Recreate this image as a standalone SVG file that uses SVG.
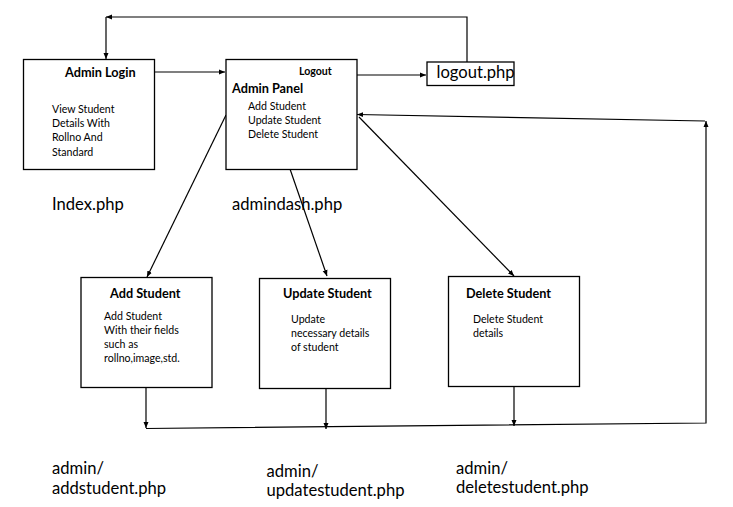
<svg xmlns="http://www.w3.org/2000/svg" width="733" height="507" viewBox="0 0 733 507">
<defs>
<marker id="arr" viewBox="0 0 6 6" markerWidth="6" markerHeight="6" refX="6" refY="3" orient="auto" markerUnits="userSpaceOnUse">
<path d="M0,0.5 L6,3 L0,5.5 z" fill="#000"/>
</marker>
</defs>
<style>
.box{fill:#fff;stroke:#000;stroke-width:1.3}
.ln{fill:none;stroke:#000;stroke-width:1.2}
.t{font-family:Lato,"Liberation Sans",sans-serif;fill:#000}
.title{font-size:12.7px;font-weight:bold}
.body{font-size:10.6px}
.big{font-size:16.6px}
</style>
<rect width="733" height="507" fill="#fff"/>
<g id="connectors">
<line class="ln" x1="146" y1="72" x2="225" y2="72" marker-end="url(#arr)"/>
<line class="ln" x1="338" y1="75" x2="426" y2="75" marker-end="url(#arr)"/>
<polyline class="ln" points="467,62 467,17 106,17" marker-end="url(#arr)"/>
<line class="ln" x1="106" y1="17" x2="106" y2="59" marker-end="url(#arr)"/>
<line class="ln" x1="226" y1="115" x2="147" y2="277" marker-end="url(#arr)"/>
<line class="ln" x1="290" y1="169" x2="327" y2="276" marker-end="url(#arr)"/>
<line class="ln" x1="359" y1="117" x2="514" y2="276" marker-end="url(#arr)"/>
<line class="ln" x1="146" y1="388" x2="146" y2="428" marker-end="url(#arr)"/>
<line class="ln" x1="326" y1="389" x2="326" y2="429" marker-end="url(#arr)"/>
<line class="ln" x1="514" y1="387" x2="514" y2="426" marker-end="url(#arr)"/>
<polyline class="ln" points="146,428.5 706,423 706,121" marker-end="url(#arr)"/>
<line class="ln" x1="705" y1="121" x2="357" y2="114.5" marker-end="url(#arr)"/>
</g>
<g id="admin-login">
<rect class="box" x="23.5" y="59.5" width="131" height="110"/>
<text class="t title" x="65" y="77">Admin Login</text>
<text class="t body" x="52" y="113">View Student</text>
<text class="t body" x="52" y="127">Details With</text>
<text class="t body" x="52" y="141">Rollno And</text>
<text class="t body" x="52" y="156">Standard</text>
<text class="t big" x="52" y="210">Index.php</text>
</g>
<g id="admin-panel">
<rect class="box" x="226" y="59.5" width="131" height="110"/>
<text class="t" x="299" y="75" font-size="10.6" font-weight="bold">Logout</text>
<text class="t title" x="232" y="93">Admin Panel</text>
<text class="t body" x="248" y="110">Add Student</text>
<text class="t body" x="248" y="124">Update Student</text>
<text class="t body" x="248" y="137.5">Delete Student</text>
<text class="t big" x="232" y="210">admindash.php</text>
</g>
<g id="logout">
<rect class="box" x="427" y="62" width="87" height="23.5"/>
<text class="t big" x="436.5" y="78">logout.php</text>
</g>
<g id="add-student">
<rect class="box" x="81" y="277.5" width="131" height="110"/>
<text class="t title" x="110" y="298">Add Student</text>
<text class="t body" x="104" y="320">Add Student</text>
<text class="t body" x="104" y="334">With their fields</text>
<text class="t body" x="104" y="347.5">such as</text>
<text class="t body" x="104" y="361.5">rollno,image,std.</text>
<text class="t big" x="52" y="474">admin/</text>
<text class="t big" x="52" y="493.5">addstudent.php</text>
</g>
<g id="update-student">
<rect class="box" x="259.5" y="278.5" width="131" height="110"/>
<text class="t title" x="283" y="298">Update Student</text>
<text class="t body" x="291" y="323">Update</text>
<text class="t body" x="291" y="337">necessary details</text>
<text class="t body" x="291" y="351">of student</text>
<text class="t big" x="266.5" y="476.5">admin/</text>
<text class="t big" x="266.5" y="495.5">updatestudent.php</text>
</g>
<g id="delete-student">
<rect class="box" x="448.5" y="276.5" width="131" height="110"/>
<text class="t title" x="466" y="298">Delete Student</text>
<text class="t body" x="473" y="323">Delete Student</text>
<text class="t body" x="473" y="337">details</text>
<text class="t big" x="456" y="474">admin/</text>
<text class="t big" x="456" y="493">deletestudent.php</text>
</g>
</svg>
